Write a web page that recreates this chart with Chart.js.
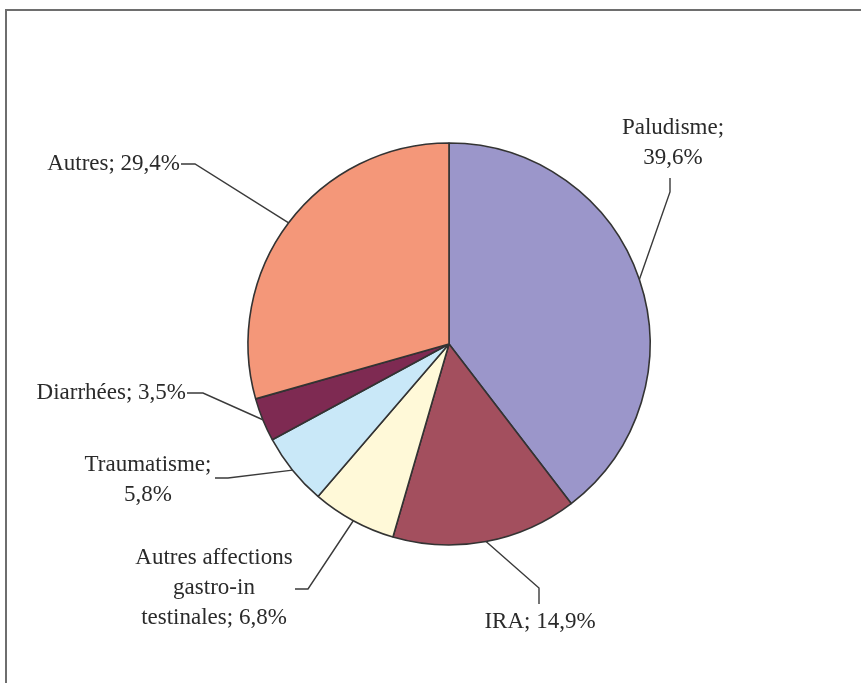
<!DOCTYPE html>
<html>
<head>
<meta charset="utf-8">
<script src="https://cdn.jsdelivr.net/npm/chart.js@4"></script>
<style>
  html, body { margin: 0; padding: 0; background: #fff; }
  #wrap { width: 861px; height: 683px; }
</style>
</head>
<body>
<div id="wrap"><canvas id="pieChart" width="861" height="683"></canvas></div>
<script>
const labels = ["Paludisme", "IRA", "Autres affections gastro-intestinales", "Traumatisme", "Diarrhées", "Autres"];
const values = [39.6, 14.9, 6.8, 5.8, 3.5, 29.4];
const colors = ["#9b96ca", "#a34f5e", "#fff9d8", "#c9e8f8", "#7e2a52", "#f49779"];

// label text lines and where they sit (layout only)
const labelLines = [
    ["Paludisme;", "39,6%"],
    ["IRA; 14,9%"],
    ["Autres affections", "gastro-in", "testinales; 6,8%"],
    ["Traumatisme;", "5,8%"],
    ["Diarrhées; 3,5%"],
    ["Autres; 29,4%"]
];
const labelLayout = [
    { elbow: [670, 192], end: [670, 178], x: 673, y: 128, align: "center" },
    { elbow: [539, 588], end: [539, 604], x: 540, y: 622, align: "center" },
    { elbow: [308, 589], end: [295, 589], x: 214, y: 558, align: "center" },
    { elbow: [228, 478], end: [215, 478], x: 148, y: 465, align: "center" },
    { elbow: [203, 393], end: [187, 393], x: 186, y: 393, align: "right" },
    { elbow: [195, 164], end: [181, 164], x: 180, y: 164, align: "right" }
];

const framePlugin = {
    id: "frame",
    beforeDraw(chart) {
        const ctx = chart.ctx;
        ctx.save();
        ctx.fillStyle = "#ffffff";
        ctx.fillRect(0, 0, chart.width, chart.height);
        ctx.strokeStyle = "#6e6e6e";
        ctx.lineWidth = 2;
        ctx.strokeRect(6, 10, chart.width + 20, chart.height + 20);
        ctx.restore();
    }
};

const leaderPlugin = {
    id: "leaders",
    afterDatasetsDraw(chart) {
        const ctx = chart.ctx;
        const arcs = chart.getDatasetMeta(0).data;
        ctx.save();
        arcs.forEach(function (arc, i) {
            const p = arc.getProps(["x", "y", "startAngle", "endAngle", "outerRadius"], true);
            const mid = (p.startAngle + p.endAngle) / 2;
            const sx = p.x + Math.cos(mid) * p.outerRadius;
            const sy = p.y + Math.sin(mid) * p.outerRadius;
            const lay = labelLayout[i];

            ctx.strokeStyle = "#3a3a3a";
            ctx.lineWidth = 1.4;
            ctx.beginPath();
            ctx.moveTo(sx, sy);
            ctx.lineTo(lay.elbow[0], lay.elbow[1]);
            ctx.lineTo(lay.end[0], lay.end[1]);
            ctx.stroke();

            ctx.fillStyle = "#2a2a2a";
            ctx.font = "23px 'Liberation Serif', 'Times New Roman', serif";
            ctx.textAlign = lay.align;
            ctx.textBaseline = "middle";
            labelLines[i].forEach(function (line, k) {
                ctx.fillText(line, lay.x, lay.y + k * 30);
            });
        });
        ctx.restore();
    }
};

const ctx = document.getElementById("pieChart").getContext("2d");
const pieChart = new Chart(ctx, {
    type: "pie",
    data: {
        labels: labels,
        datasets: [{
            data: values,
            backgroundColor: colors,
            borderColor: "#333333",
            borderWidth: 1.6
        }]
    },
    options: {
        responsive: false,
        animation: false,
        radius: 201,
        layout: {
            padding: { left: 37, right: 0, top: 5, bottom: 0 }
        },
        plugins: {
            legend: { display: false },
            tooltip: { enabled: false }
        }
    },
    plugins: [framePlugin, leaderPlugin]
});
</script>
</body>
</html>
